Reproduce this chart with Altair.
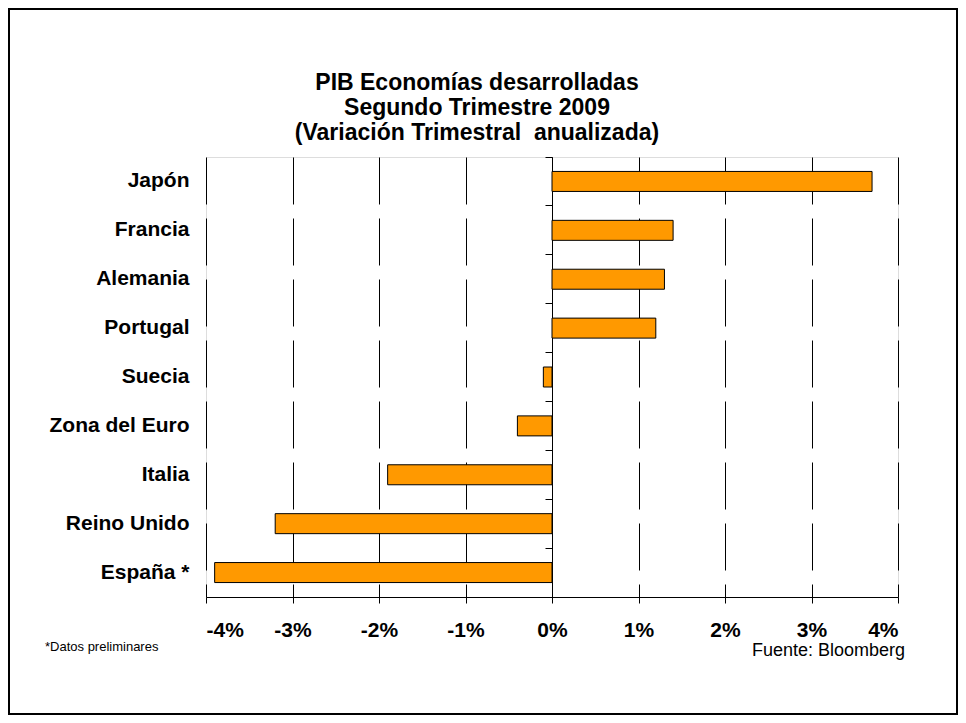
import altair as alt
import pandas as pd

paises = ["Japón", "Francia", "Alemania", "Portugal", "Suecia",
          "Zona del Euro", "Italia", "Reino Unido", "España *"]
valores = [3.7, 1.4, 1.3, 1.2, -0.1, -0.4, -1.9, -3.2, -3.9]
ticks_x = [-4, -3, -2, -1, 0, 1, 2, 3, 4]
titulo = ["PIB Economías desarrolladas", "Segundo Trimestre 2009",
          "(Variación Trimestral\u00a0 anualizada)"]
nota = "*Datos preliminares"
fuente = "Fuente: Bloomberg"

df = pd.DataFrame({"pais": paises, "valor": valores})
FONT = "Liberation Sans"
W, H = 692, 440

xscale = alt.Scale(domain=[-4, 4], nice=False, zero=False)
yscale = alt.Scale(domain=paises, paddingInner=0, paddingOuter=0)

bars = alt.Chart(df).mark_bar(size=20, color="#FF9900", stroke="black", strokeWidth=1).encode(
    x=alt.X("valor:Q", scale=xscale, title=None,
            axis=alt.Axis(values=ticks_x, labelExpr="datum.value + '%'",
                          labelFont=FONT, labelFontSize=21, labelFontWeight="bold",
                          labelColor="black", labelPadding=16,
                          domainColor="black", domainWidth=1, tickColor="black",
                          tickSize=6, tickWidth=1,
                          grid=True, gridColor="black", gridWidth=1,
                          gridDash=[47, 14], gridDashOffset=34)),
    y=alt.Y("pais:N", scale=yscale, sort=paises, title=None,
            axis=alt.Axis(orient="left", domain=False, ticks=False, grid=False,
                          labelFont=FONT, labelFontSize=21, labelFontWeight="bold",
                          labelColor="black", labelPadding=17)),
)

zero_axis = alt.Chart(df).mark_bar(opacity=0).encode(
    x=alt.X("valor:Q", scale=xscale),
    y=alt.Y("pais:N", scale=yscale, sort=paises, title=None,
            axis=alt.Axis(orient="left", offset=-346, labels=False, grid=False,
                          domainColor="black", domainWidth=1, tickColor="black",
                          tickSize=7, tickWidth=1, bandPosition=0)),
)

one = pd.DataFrame({"a": [0]})
border = alt.Chart(one).mark_rect(fill="transparent", stroke="black", strokeWidth=2).encode(
    x=alt.value(-197), x2=alt.value(751), y=alt.value(-148), y2=alt.value(557))

titulo_t = alt.Chart(one).mark_text(text=titulo, font=FONT, fontSize=23, fontWeight="bold",
                                    align="center", baseline="middle", lineHeight=25,
                                    color="black").encode(
    x=alt.value(271), y=alt.value(-74))

nota_t = alt.Chart(one).mark_text(text=nota, font=FONT, fontSize=13, align="left",
                                  baseline="middle", color="black").encode(
    x=alt.value(-161), y=alt.value(490))
fuente_t = alt.Chart(one).mark_text(text=fuente, font=FONT, fontSize=18, align="right",
                                    baseline="middle", color="black").encode(
    x=alt.value(699), y=alt.value(494))

chart = alt.layer(bars, zero_axis, border, titulo_t, nota_t, fuente_t).resolve_axis(
    y="independent"
).properties(
    width=W, height=H,
    autosize=alt.AutoSizeParams(type="none"),
    padding={"left": 198, "top": 149, "right": 60, "bottom": 118},
).configure_view(stroke="transparent", strokeWidth=0).configure(font=FONT)

chart.save("out.html", embed_options={"renderer": "svg", "actions": False})
